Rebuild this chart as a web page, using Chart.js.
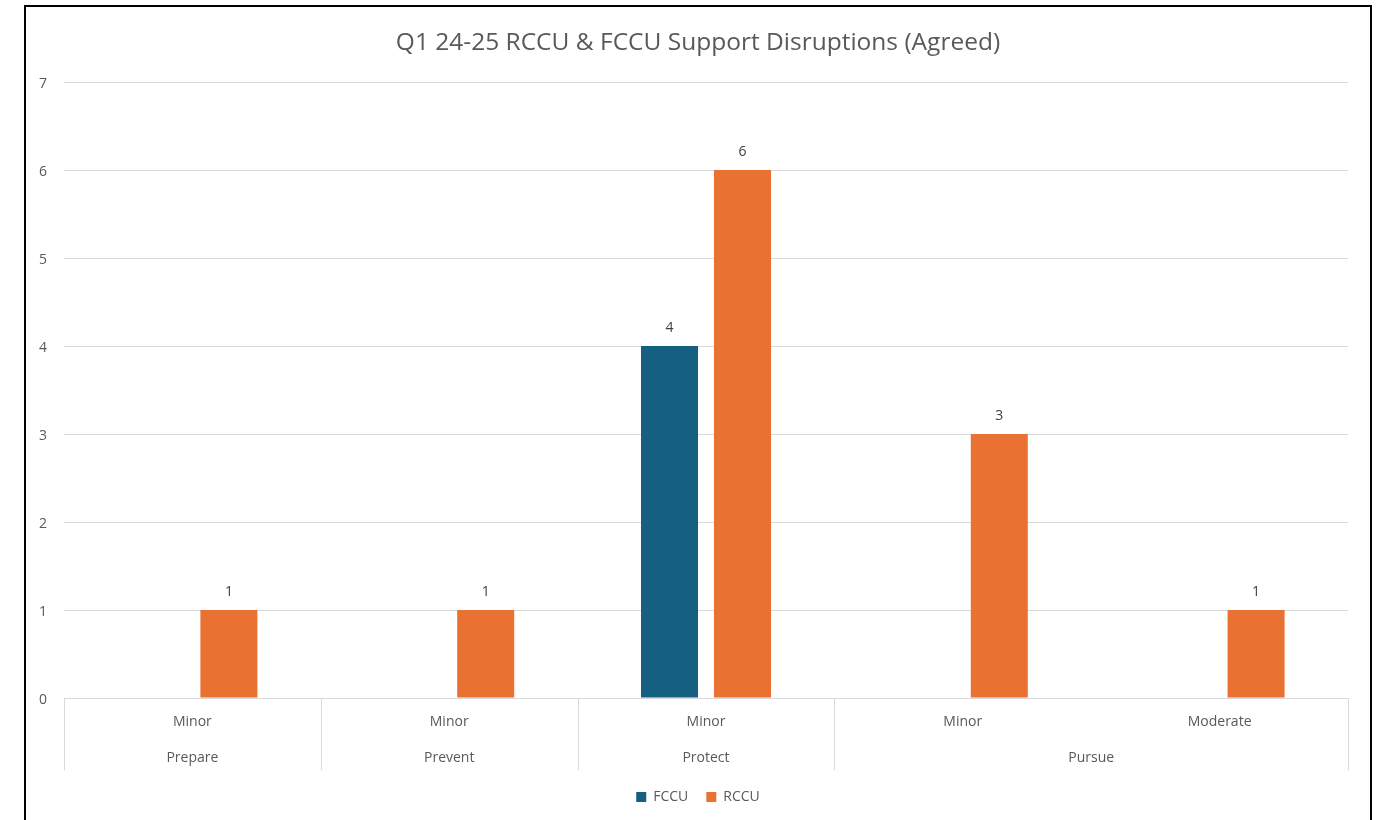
<!DOCTYPE html>
<html>
<head>
<meta charset="utf-8">
<script src="https://cdn.jsdelivr.net/npm/chart.js@4.4.1/dist/chart.umd.min.js"></script>
<style>
  html, body { margin: 0; padding: 0; background: #fff; overflow: hidden; }
  #frame { position: absolute; left: 24px; top: 5px; width: 1344px; height: 840px; border: 2px solid #000; }
</style>
</head>
<body>
<div id="frame"><canvas id="chart"></canvas></div>
<script>
  // --- data ---
  const SEVERITY = ['Minor', 'Minor', 'Minor', 'Minor', 'Moderate'];
  const STRAND = ['Prepare', 'Prevent', 'Protect', 'Pursue', 'Pursue'];
  const FCCU = [null, null, 4, null, null];
  const RCCU = [1, 1, 6, 3, 1];
  const Y_TICKS = [0, 1, 2, 3, 4, 5, 6, 7];

  const FONT = "'Open Sans', sans-serif";
  const GREY = '#595959';
  const GRID = '#d9d9d9';

  Chart.defaults.font.family = FONT;
  Chart.defaults.color = GREY;

  // value labels above each bar
  const valueLabels = {
    id: 'valueLabels',
    afterDatasetsDraw(chart) {
      const ctx = chart.ctx;
      ctx.save();
      ctx.font = '14px ' + FONT;
      ctx.fillStyle = '#404040';
      ctx.textAlign = 'center';
      ctx.textBaseline = 'middle';
      chart.data.datasets.forEach((ds, i) => {
        chart.getDatasetMeta(i).data.forEach((bar, j) => {
          if (ds.data[j] == null) return;
          ctx.fillText(ds.data[j], bar.x, bar.y - 18);
        });
      });
      ctx.restore();
    }
  };

  // two-level category axis (severity / strand)
  const multiAxis = {
    id: 'multiAxis',
    afterDraw(chart) {
      const ctx = chart.ctx;
      const x = chart.scales.x;
      const area = chart.chartArea;
      const n = SEVERITY.length;
      const step = (area.right - area.left) / n;
      ctx.save();
      ctx.font = '14px ' + FONT;
      ctx.fillStyle = GREY;
      ctx.textAlign = 'center';
      ctx.textBaseline = 'middle';
      SEVERITY.forEach((s, i) => ctx.fillText(s, x.getPixelForValue(i), area.bottom + 24));

      // group edges
      const edges = [0];
      for (let i = 1; i < n; i++) if (STRAND[i] !== STRAND[i - 1]) edges.push(i);
      edges.push(n);

      ctx.strokeStyle = GRID;
      ctx.lineWidth = 1;
      edges.forEach(e => {
        const px = Math.round(area.left + e * step) + 0.5;
        ctx.beginPath();
        ctx.moveTo(px, area.bottom);
        ctx.lineTo(px, area.bottom + 72);
        ctx.stroke();
      });
      for (let k = 0; k < edges.length - 1; k++) {
        const mid = area.left + (edges[k] + edges[k + 1]) / 2 * step;
        ctx.fillText(STRAND[edges[k]], mid, area.bottom + 60);
      }
      ctx.restore();
    }
  };

  new Chart(document.getElementById('chart'), {
    type: 'bar',
    data: {
      labels: SEVERITY.map((s, i) => [s, STRAND[i]]),
      datasets: [
        { label: 'FCCU', data: FCCU, backgroundColor: '#156082',
          categoryPercentage: 0.5685, barPercentage: 0.781 },
        { label: 'RCCU', data: RCCU, backgroundColor: '#E97132',
          categoryPercentage: 0.5685, barPercentage: 0.781 }
      ]
    },
    options: {
      responsive: true,
      maintainAspectRatio: false,
      animation: false,
      layout: { padding: { left: 0, right: 0, top: 0, bottom: 33 } },
      plugins: {
        title: {
          display: true,
          text: 'Q1 24-25 RCCU & FCCU Support Disruptions (Agreed)',
          color: GREY,
          font: { size: 24.5, weight: 'normal', family: FONT },
          padding: { top: 21, bottom: 24.6 }
        },
        legend: {
          position: 'bottom',
          labels: {
            boxWidth: 10,
            boxHeight: 10,
            padding: 18,
            color: GREY,
            font: { size: 14, family: FONT }
          }
        },
        tooltip: { enabled: false }
      },
      scales: {
        x: {
          grid: { display: false },
          border: { display: false },
          ticks: { display: false },
          afterFit: s => { s.height = 74; }
        },
        y: {
          min: Y_TICKS[0],
          max: Y_TICKS[Y_TICKS.length - 1],
          afterBuildTicks: s => { s.ticks = Y_TICKS.map(v => ({ value: v })); },
          ticks: { padding: 17, labelOffset: 2, color: GREY, font: { size: 14, family: FONT } },
          grid: { color: GRID, drawTicks: false },
          border: { display: false },
          afterFit: s => { s.width = 38; }
        },
        // empty right-hand axis, only reserves the right margin
        yRight: {
          position: 'right',
          grid: { display: false },
          border: { display: false },
          ticks: { display: false },
          afterFit: s => { s.width = 22; }
        }
      }
    },
    plugins: [valueLabels, multiAxis]
  });
</script>
</body>
</html>
